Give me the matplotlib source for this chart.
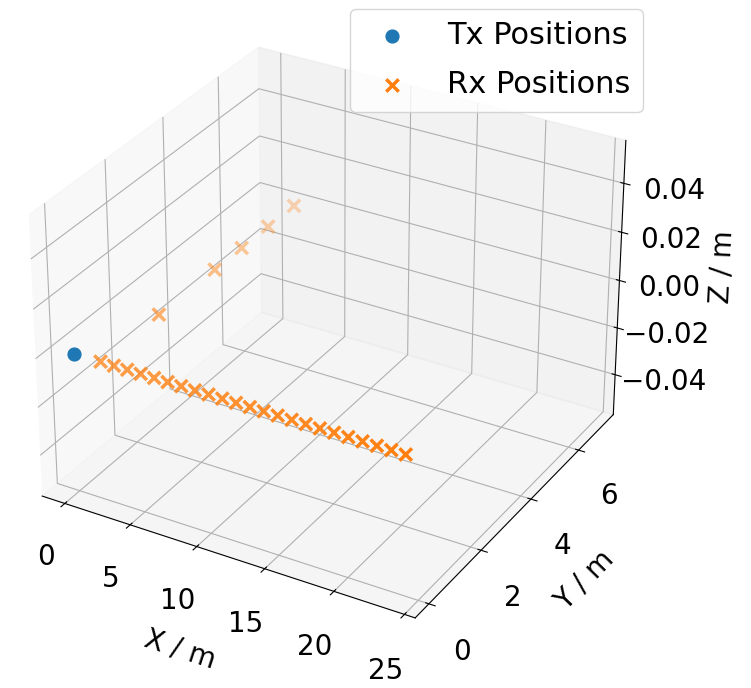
import numpy as np
import matplotlib
matplotlib.use("Agg")
import matplotlib.pyplot as plt

tx_x = [0]
tx_y = [0]
tx_z = [0]

rx_line_x = list(range(2, 25))
rx_line_y = [0] * len(rx_line_x)
rx_side_x = [2, 2, 2, 2, 2]
rx_side_y = [2, 4, 5, 6, 7]
rx_x = rx_line_x + rx_side_x
rx_y = rx_line_y + rx_side_y
rx_z = [0] * len(rx_x)

y_ticks = [0, 2, 4, 6]

fig = plt.figure(figsize=(7.51, 6.88), dpi=100)
ax = fig.add_axes([-0.051, 0.041, 0.965, 0.965], projection='3d')
ax.scatter(tx_x, tx_y, tx_z, marker='o', s=85, color='C0', label='Tx Positions')
ax.scatter(rx_x, rx_y, rx_z, marker='x', s=80, color='C1', linewidths=2.5, label='Rx Positions')

ax.set_yticks(y_ticks)
ax.tick_params(labelsize=20)
ax.tick_params(axis='x', pad=13)
ax.tick_params(axis='y', pad=13)
ax.tick_params(axis='z', pad=14)
ax.set_xlabel('X / m', fontsize=20, labelpad=27)
ax.set_ylabel('Y / m', fontsize=20, labelpad=23)
ax.set_zlabel('Z / m', fontsize=20, labelpad=25)
ax.legend(loc='upper right', fontsize=22, labelspacing=0.66,
          bbox_to_anchor=(643 / 751, 1 - 9 / 688), bbox_transform=fig.transFigure,
          borderaxespad=0)
fig.savefig('out.png', dpi=100)
